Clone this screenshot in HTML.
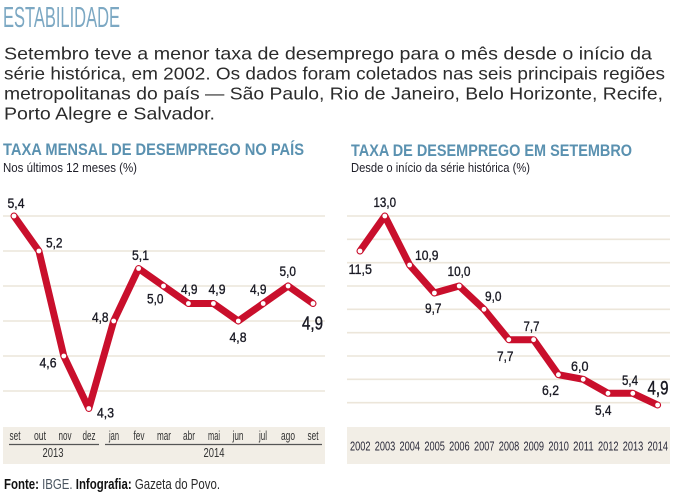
<!DOCTYPE html>
<html lang="pt">
<head>
<meta charset="utf-8">
<style>
  html,body{margin:0;padding:0;background:#fff;}
  body{width:674px;height:496px;overflow:hidden;}
  svg{display:block;}
  .n{font-family:"Liberation Sans Narrow","Liberation Sans",sans-serif;}
  .s{font-family:"Liberation Sans",sans-serif;}
</style>
</head>
<body>
<svg width="674" height="496" viewBox="0 0 674 496" xmlns="http://www.w3.org/2000/svg">
  <!-- Header -->
  <text class="n" x="3" y="27" font-size="29" fill="#7ca8c3" textLength="117" lengthAdjust="spacingAndGlyphs">ESTABILIDADE</text>

  <g class="s" font-size="17.5" fill="#2b2b2b">
    <text x="4" y="59.5" textLength="648" lengthAdjust="spacingAndGlyphs">Setembro teve a menor taxa de desemprego para o mês desde o início da</text>
    <text x="4" y="79.5" textLength="661" lengthAdjust="spacingAndGlyphs">série histórica, em 2002. Os dados foram coletados nas seis principais regiões</text>
    <text x="4" y="99.5" textLength="659" lengthAdjust="spacingAndGlyphs">metropolitanas do país — São Paulo, Rio de Janeiro, Belo Horizonte, Recife,</text>
    <text x="4" y="119.5" textLength="211" lengthAdjust="spacingAndGlyphs">Porto Alegre e Salvador.</text>
  </g>

  <!-- Chart titles -->
  <g class="n" font-weight="bold" font-size="16.5" fill="#5a91b0">
    <text x="3" y="155" textLength="301" lengthAdjust="spacingAndGlyphs">TAXA MENSAL DE DESEMPREGO NO PAÍS</text>
    <text x="351" y="156" textLength="281" lengthAdjust="spacingAndGlyphs">TAXA DE DESEMPREGO EM SETEMBRO</text>
  </g>
  <g class="n" font-size="12.5" fill="#1e1e28">
    <text x="3" y="172" textLength="134" lengthAdjust="spacingAndGlyphs">Nos últimos 12 meses (%)</text>
    <text x="351" y="172" textLength="179" lengthAdjust="spacingAndGlyphs">Desde o início da série histórica (%)</text>
  </g>

  <!-- LEFT CHART -->
  <g stroke="#ece6da" stroke-width="1.6">
    <line x1="3" y1="216" x2="325" y2="216"/>
    <line x1="3" y1="251" x2="325" y2="251"/>
    <line x1="3" y1="286" x2="325" y2="286"/>
    <line x1="3" y1="321" x2="325" y2="321"/>
    <line x1="3" y1="356" x2="325" y2="356"/>
    <line x1="3" y1="391" x2="325" y2="391"/>
  </g>
  <rect x="3" y="427" width="322" height="37" fill="#f2eee6"/>
  <g class="n" font-size="12.5" fill="#333" text-anchor="middle">
    <text x="15" y="440" textLength="11" lengthAdjust="spacingAndGlyphs">set</text>
    <text x="40" y="440" textLength="12" lengthAdjust="spacingAndGlyphs">out</text>
    <text x="65" y="440" textLength="13" lengthAdjust="spacingAndGlyphs">nov</text>
    <text x="89" y="440" textLength="13" lengthAdjust="spacingAndGlyphs">dez</text>
    <text x="114" y="440" textLength="10" lengthAdjust="spacingAndGlyphs">jan</text>
    <text x="139" y="440" textLength="11" lengthAdjust="spacingAndGlyphs">fev</text>
    <text x="164" y="440" textLength="14" lengthAdjust="spacingAndGlyphs">mar</text>
    <text x="189" y="440" textLength="12" lengthAdjust="spacingAndGlyphs">abr</text>
    <text x="214" y="440" textLength="12" lengthAdjust="spacingAndGlyphs">mai</text>
    <text x="238" y="440" textLength="11" lengthAdjust="spacingAndGlyphs">jun</text>
    <text x="263" y="440" textLength="8" lengthAdjust="spacingAndGlyphs">jul</text>
    <text x="288" y="440" textLength="14" lengthAdjust="spacingAndGlyphs">ago</text>
    <text x="313" y="440" textLength="11" lengthAdjust="spacingAndGlyphs">set</text>
    <text x="53" y="457" textLength="21" lengthAdjust="spacingAndGlyphs">2013</text>
    <text x="214" y="457" textLength="21" lengthAdjust="spacingAndGlyphs">2014</text>
  </g>
  <g stroke="#555" stroke-width="1.3">
    <line x1="9" y1="444.5" x2="99" y2="444.5"/>
    <line x1="105" y1="444.5" x2="322" y2="444.5"/>
  </g>

  <polyline fill="none" stroke="#c90f2c" stroke-width="7" stroke-linejoin="round" stroke-linecap="round"
    points="14,216 38.9,251 63.8,356 88.8,408.5 113.7,321 138.6,268.5 163.5,286 188.4,303.5 213.4,303.5 238.3,321 263.2,303.5 288.1,286 313,303.5"/>
  <g fill="#fff">
    <circle cx="14" cy="216" r="2.4"/>
    <circle cx="38.9" cy="251" r="2.4"/>
    <circle cx="63.8" cy="356" r="2.4"/>
    <circle cx="88.8" cy="408.5" r="2.4"/>
    <circle cx="113.7" cy="321" r="2.4"/>
    <circle cx="138.6" cy="268.5" r="2.4"/>
    <circle cx="163.5" cy="286" r="2.4"/>
    <circle cx="188.4" cy="303.5" r="2.4"/>
    <circle cx="213.4" cy="303.5" r="2.4"/>
    <circle cx="238.3" cy="321" r="2.4"/>
    <circle cx="263.2" cy="303.5" r="2.4"/>
    <circle cx="288.1" cy="286" r="2.4"/>
    <circle cx="313" cy="303.5" r="2.4"/>
  </g>
  <g class="n" font-size="14" fill="#1a1a24" stroke="#1a1a24" stroke-width="0.35">
    <text x="7.5" y="208" textLength="17" lengthAdjust="spacingAndGlyphs">5,4</text>
    <text x="46" y="247.5" textLength="16.5" lengthAdjust="spacingAndGlyphs">5,2</text>
    <text x="39.5" y="367.5" textLength="17" lengthAdjust="spacingAndGlyphs">4,6</text>
    <text x="97" y="417.5" textLength="17" lengthAdjust="spacingAndGlyphs">4,3</text>
    <text x="92" y="322" textLength="16.5" lengthAdjust="spacingAndGlyphs">4,8</text>
    <text x="132" y="260" textLength="17" lengthAdjust="spacingAndGlyphs">5,1</text>
    <text x="147" y="303.5" textLength="16.5" lengthAdjust="spacingAndGlyphs">5,0</text>
    <text x="181" y="294" textLength="16.5" lengthAdjust="spacingAndGlyphs">4,9</text>
    <text x="208.5" y="294" textLength="17" lengthAdjust="spacingAndGlyphs">4,9</text>
    <text x="229.5" y="342" textLength="17" lengthAdjust="spacingAndGlyphs">4,8</text>
    <text x="250" y="294" textLength="16.5" lengthAdjust="spacingAndGlyphs">4,9</text>
    <text x="279.5" y="276" textLength="16.5" lengthAdjust="spacingAndGlyphs">5,0</text>
  </g>
  <text class="n" x="302" y="329.5" font-size="18" fill="#1a1a24" stroke="#1a1a24" stroke-width="0.4" textLength="21" lengthAdjust="spacingAndGlyphs">4,9</text>

  <!-- RIGHT CHART -->
  <g stroke="#ece6da" stroke-width="1.6">
    <line x1="347" y1="216" x2="670" y2="216"/>
    <line x1="347" y1="239.3" x2="670" y2="239.3"/>
    <line x1="347" y1="262.7" x2="670" y2="262.7"/>
    <line x1="347" y1="286" x2="670" y2="286"/>
    <line x1="347" y1="309.3" x2="670" y2="309.3"/>
    <line x1="347" y1="332.7" x2="670" y2="332.7"/>
    <line x1="347" y1="356" x2="670" y2="356"/>
    <line x1="347" y1="379.3" x2="670" y2="379.3"/>
    <line x1="347" y1="402.7" x2="670" y2="402.7"/>
  </g>
  <rect x="347" y="427" width="323" height="37" fill="#f2eee6"/>
  <g class="n" font-size="12.5" fill="#2a2a3a" text-anchor="middle">
    <text x="360.3" y="450.5" textLength="20.5" lengthAdjust="spacingAndGlyphs">2002</text>
    <text x="385" y="450.5" textLength="20.5" lengthAdjust="spacingAndGlyphs">2003</text>
    <text x="409.8" y="450.5" textLength="20.5" lengthAdjust="spacingAndGlyphs">2004</text>
    <text x="434.6" y="450.5" textLength="20.5" lengthAdjust="spacingAndGlyphs">2005</text>
    <text x="459.4" y="450.5" textLength="20.5" lengthAdjust="spacingAndGlyphs">2006</text>
    <text x="484.2" y="450.5" textLength="20.5" lengthAdjust="spacingAndGlyphs">2007</text>
    <text x="509" y="450.5" textLength="20.5" lengthAdjust="spacingAndGlyphs">2008</text>
    <text x="533.8" y="450.5" textLength="20.5" lengthAdjust="spacingAndGlyphs">2009</text>
    <text x="558.6" y="450.5" textLength="20.5" lengthAdjust="spacingAndGlyphs">2010</text>
    <text x="583.4" y="450.5" textLength="20.5" lengthAdjust="spacingAndGlyphs">2011</text>
    <text x="608.2" y="450.5" textLength="20.5" lengthAdjust="spacingAndGlyphs">2012</text>
    <text x="633" y="450.5" textLength="20.5" lengthAdjust="spacingAndGlyphs">2013</text>
    <text x="657.8" y="450.5" textLength="20.5" lengthAdjust="spacingAndGlyphs">2014</text>
  </g>

  <polyline fill="none" stroke="#c90f2c" stroke-width="7" stroke-linejoin="round" stroke-linecap="round"
    points="360,251 384.8,216 409.6,265 434.4,293 459.2,286 484,309.3 508.8,339.7 533.6,339.7 558.4,374.7 583.2,379.3 608,393.3 632.8,393.3 657.6,405"/>
  <g fill="#fff">
    <circle cx="360" cy="251" r="2.4"/>
    <circle cx="384.8" cy="216" r="2.4"/>
    <circle cx="409.6" cy="265" r="2.4"/>
    <circle cx="434.4" cy="293" r="2.4"/>
    <circle cx="459.2" cy="286" r="2.4"/>
    <circle cx="484" cy="309.3" r="2.4"/>
    <circle cx="508.8" cy="339.7" r="2.4"/>
    <circle cx="533.6" cy="339.7" r="2.4"/>
    <circle cx="558.4" cy="374.7" r="2.4"/>
    <circle cx="583.2" cy="379.3" r="2.4"/>
    <circle cx="608" cy="393.3" r="2.4"/>
    <circle cx="632.8" cy="393.3" r="2.4"/>
    <circle cx="657.6" cy="405" r="2.4"/>
  </g>
  <g class="n" font-size="14" fill="#1a1a24" stroke="#1a1a24" stroke-width="0.35">
    <text x="348.5" y="274" textLength="23.5" lengthAdjust="spacingAndGlyphs">11,5</text>
    <text x="373.5" y="207" textLength="22.5" lengthAdjust="spacingAndGlyphs">13,0</text>
    <text x="415" y="260" textLength="23.5" lengthAdjust="spacingAndGlyphs">10,9</text>
    <text x="425" y="313" textLength="16.5" lengthAdjust="spacingAndGlyphs">9,7</text>
    <text x="447.5" y="276" textLength="23" lengthAdjust="spacingAndGlyphs">10,0</text>
    <text x="485" y="301" textLength="16.5" lengthAdjust="spacingAndGlyphs">9,0</text>
    <text x="523.5" y="331" textLength="16" lengthAdjust="spacingAndGlyphs">7,7</text>
    <text x="497" y="361" textLength="16.5" lengthAdjust="spacingAndGlyphs">7,7</text>
    <text x="542" y="395" textLength="17" lengthAdjust="spacingAndGlyphs">6,2</text>
    <text x="571" y="371" textLength="17.5" lengthAdjust="spacingAndGlyphs">6,0</text>
    <text x="595" y="415" textLength="16.5" lengthAdjust="spacingAndGlyphs">5,4</text>
    <text x="622" y="385" textLength="16" lengthAdjust="spacingAndGlyphs">5,4</text>
  </g>
  <text class="n" x="647.5" y="394.5" font-size="19" fill="#1a1a24" stroke="#1a1a24" stroke-width="0.4" textLength="21" lengthAdjust="spacingAndGlyphs">4,9</text>

  <!-- Footer -->
  <text class="n" x="4" y="489" font-size="14.5" fill="#2b2b2b" textLength="216" lengthAdjust="spacingAndGlyphs"><tspan font-weight="bold" fill="#111">Fonte:</tspan> <tspan fill="#4a5560">IBGE.</tspan> <tspan font-weight="bold" fill="#111">Infografia:</tspan> Gazeta do Povo.</text>
</svg>
</body>
</html>
